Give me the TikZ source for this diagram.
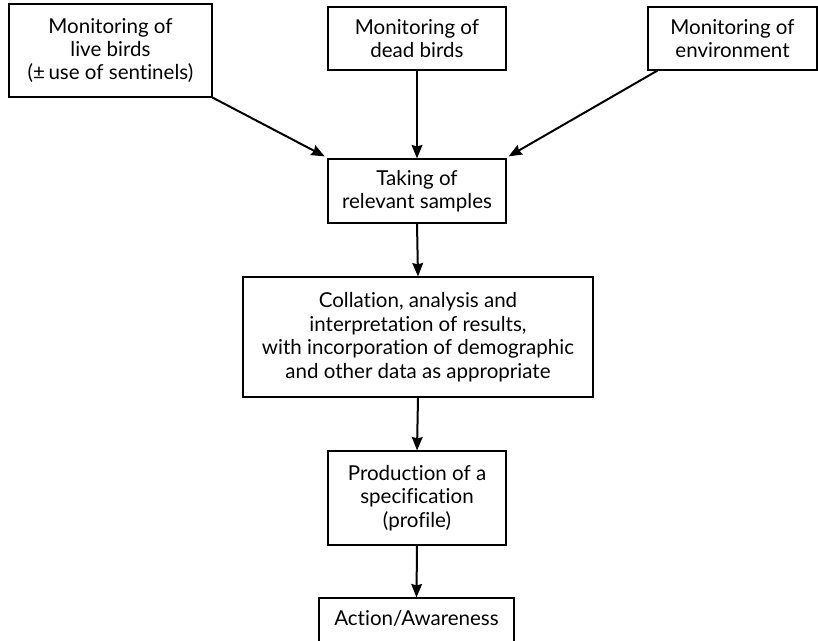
\documentclass[tikz,border=0pt]{standalone}
\usepackage{fontspec}
\setmainfont{Lato}[Ligatures=NoCommon]
\usetikzlibrary{arrows.meta,calc}
\begin{document}
\begin{tikzpicture}[x=0.75pt,y=-0.75pt,
  box/.style={draw,line width=0.9pt,align=center,inner sep=0pt,
    font=\fontsize{15.4}{17.6}\selectfont},
  conn/.style={line width=1.5pt,-{Stealth[length=10pt,width=8pt,inset=1pt]}}]
\useasboundingbox (0,0) rectangle (818,640);
\node[box,minimum width=203*0.75pt,minimum height=93*0.75pt] (b1) at (110.5,50.5)
  {Monitoring of\\live birds\\(±\,use of sentinels)};
\node[box,minimum width=178*0.75pt,minimum height=63*0.75pt] (b2) at (417,38.5)
  {Monitoring of\\dead birds};
\node[box,minimum width=169*0.75pt,minimum height=63*0.75pt] (b3) at (732.5,38.5)
  {Monitoring of\\environment};
\node[box,minimum width=178*0.75pt,minimum height=64*0.75pt] (take) at (417,191)
  {Taking of\\relevant samples};
\node[box,minimum width=350*0.75pt,minimum height=120*0.75pt] (coll) at (418,337)
  {Collation, analysis and\\interpretation of results,\\with incorporation of demographic\\and other data as appropriate};
\node[box,minimum width=178*0.75pt,minimum height=94*0.75pt] (prod) at (417,498)
  {Production of a\\specification\\(profile)};
\node[box,minimum width=195*0.75pt,minimum height=46*0.75pt] (act) at (416.5,621)
  {\raisebox{4pt}{Action/Awareness}};
\draw[conn] (b1.south east) -- ([xshift=-2pt,yshift=1.5pt]take.north west);
\draw[conn] (b2.south) -- (take.north);
\draw[conn] ([xshift=7.5pt]b3.south west) -- ([xshift=1.5pt,yshift=1.5pt]take.north east);
\draw[conn] (take.south) -- (coll.north);
\draw[conn] (coll.south) -- (prod.north);
\draw[conn] (prod.south) -- (act.north);
\end{tikzpicture}
\end{document}
